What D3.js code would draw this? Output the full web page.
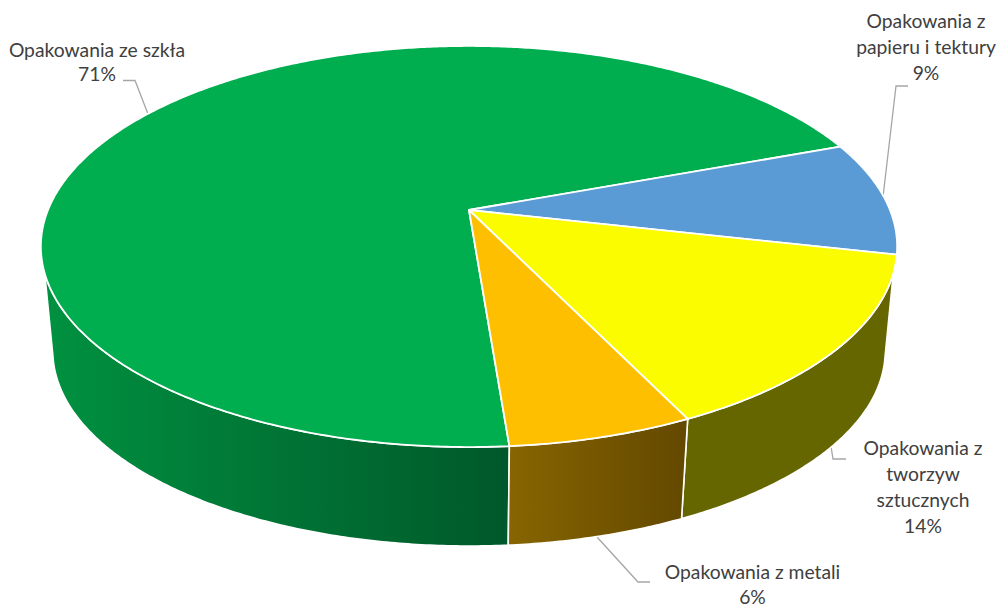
<!DOCTYPE html>
<html lang="pl">
<head>
<meta charset="utf-8">
<script src="https://cdn.jsdelivr.net/npm/d3@7"></script>
<style>
html,body{margin:0;padding:0;background:#fff;overflow:hidden}
svg{display:block}
text{font-family:Lato,"Open Sans",sans-serif;font-size:19.3px;fill:#404040}
</style>
</head>
<body>
<svg id="chart" width="999" height="605"></svg>
<script>
// Data (printed labels are these values rounded)
const categories = ["Opakowania ze szkła", "Opakowania z papieru i tektury", "Opakowania z tworzyw sztucznych", "Opakowania z metali"];
const values = [70.6, 9.2, 14.3, 5.9];
const labelLines = [["Opakowania ze szkła"], ["Opakowania z", "papieru i tektury"], ["Opakowania z", "tworzyw", "sztucznych"], ["Opakowania z metali"]];
const topColors = ["#00AE50", "#5B9BD5", "#FCFC00", "#FDBF00"];
const wallFrom = ["#009140", "#3C6A95", "#666600", "#876500"];
const wallTo = ["#00582A", "#3C6A95", "#666600", "#634800"];

// Layout
const W = 999, H = 605;
const hub = {x: 469, y: 210}, persp = 0.182, A = 421, B = 193.9;
const depthScale = 0.972, baseHubY = 315.6;
const startDeg = 175.5, visibleFrom = 108, visibleTo = 252, baseExtra = 6;
const labelAnchors = [{x: 97, y: 57}, {x: 926, y: 28}, {x: 923, y: 455}, {x: 752.5, y: 579}];
const lineSteps = [24, 26, 26, 25];
const leaders = [
  [[123, 80.5], [135, 80.5], [148, 114]],
  [[908, 86], [896, 86], [883, 197]],
  [[830, 440], [833, 459], [846, 459]],
  [[597, 537], [638, 582], [650, 582]]
];

const svg = d3.select("#chart");
const rad = d3.scaleLinear().domain([0, 180]).range([0, Math.PI]);
const deg = rad.invert;

function topPoint(t) {
  const u = Math.sin(t), v = -Math.cos(t), w = 1 - persp * v;
  return [hub.x + A * u / w, hub.y + B * v / w];
}
function basePoint(t) {
  const p = topPoint(t);
  return [hub.x + depthScale * (p[0] - hub.x), baseHubY + depthScale * (p[1] - hub.y)];
}
function sample(a0, a1, f) {
  const n = Math.max(2, Math.ceil(Math.abs(a1 - a0) / rad(0.5)));
  return d3.range(n + 1).map(i => f(a0 + (a1 - a0) * i / n));
}
const line = d3.line().curve(d3.curveLinear);

const arcs = d3.pie().sort(null).value(d => d)
  .startAngle(rad(startDeg)).endAngle(rad(startDeg + 360))(values);

const defs = svg.append("defs");
const gLeaders = svg.append("g");
const gWalls = svg.append("g");
const gTop = svg.append("g");
const gText = svg.append("g");

gLeaders.selectAll("path").data(leaders).join("path")
  .attr("d", d => line(d)).attr("fill", "none")
  .attr("stroke", "#A6A6A6").attr("stroke-width", 1.3);

// Side walls: the part of each slice's rim that faces the viewer
arcs.forEach((a, i) => {
  [0, 360].forEach(off => {
    const s0 = deg(a.startAngle), e0 = deg(a.endAngle);
    const s = Math.max(s0, visibleFrom + off);
    const e = Math.min(e0, visibleTo + off);
    if (e <= s) return;
    const bs = Math.max(s0, visibleFrom - baseExtra + off);
    const be = Math.min(e0, visibleTo + baseExtra + off);
    const upper = sample(rad(s), rad(e), topPoint);
    const lower = sample(rad(be), rad(bs), basePoint);
    const xs = upper.concat(lower).map(p => p[0]);
    const id = "wall" + i;
    const g = defs.append("linearGradient").attr("id", id)
      .attr("gradientUnits", "userSpaceOnUse")
      .attr("x1", d3.min(xs)).attr("x2", d3.max(xs)).attr("y1", 0).attr("y2", 0);
    g.append("stop").attr("offset", 0).attr("stop-color", wallFrom[i]);
    g.append("stop").attr("offset", 1).attr("stop-color", wallTo[i]);
    gWalls.append("path").attr("d", line(upper.concat(lower)) + "Z")
      .attr("fill", `url(#${id})`).attr("stroke", "#fff")
      .attr("stroke-width", 1.6).attr("stroke-linejoin", "round");
  });
});

// Top face
gTop.selectAll("path").data(arcs).join("path")
  .attr("d", d => line([[hub.x, hub.y]].concat(sample(d.startAngle, d.endAngle, topPoint))) + "Z")
  .attr("fill", (d, i) => topColors[i])
  .attr("stroke", "#fff").attr("stroke-width", 1.8).attr("stroke-linejoin", "round");

// Labels
const pct = d3.format(".0f");
values.forEach((v, i) => {
  const rows = labelLines[i].concat(pct(v) + "%");
  const t = gText.append("text").attr("text-anchor", "middle");
  rows.forEach((r, j) => {
    t.append("tspan").attr("x", labelAnchors[i].x)
      .attr("y", labelAnchors[i].y + j * lineSteps[i]).text(r);
  });
});
</script>
</body>
</html>
